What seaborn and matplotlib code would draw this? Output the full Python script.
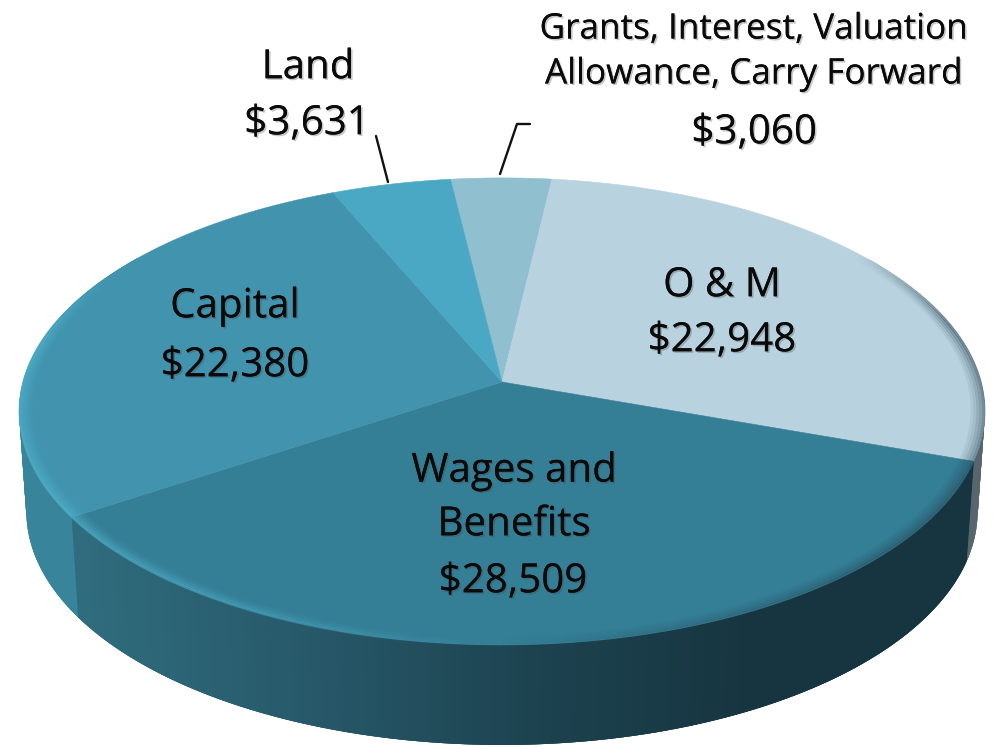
import numpy as np
import matplotlib
matplotlib.use('Agg')
import matplotlib.pyplot as plt
import matplotlib.patheffects as pe
from matplotlib.collections import LineCollection
from matplotlib.transforms import Affine2D
import seaborn as sns

# 数据
names = ['Grants, Interest, Valuation\nAllowance, Carry Forward', 'O & M', 'Wages and\nBenefits', 'Capital', 'Land']
values = [3060, 22948, 28509, 22380, 3631]
colors = ['#90bfd0', '#b8d3df', '#347e96', '#4193ae', '#4aa8c4']

sns.set_theme(style='white')
plt.rcParams['font.family'] = ['Open Sans', 'DejaVu Sans']

# 透视参数 (像素坐标)
cx, cy = 502, 382
a, b, k = 479, 229.8, 0.126
depth = 100
shrink = 0.985
start = 96.95


def project(x, y):
    w = 1 + k * y
    return cx + a * x / w, cy - b * y / w


def rim(theta):
    # theta: 从顶部顺时针的角度
    t = np.radians(theta)
    return project(np.sin(t), np.cos(t))


fig = plt.figure(figsize=(9.94, 7.47), dpi=100)
ax = fig.add_axes([0, 0, 1, 1])

# 先用 pie 算出扇形, 再投影到透视平面
wedges, _ = ax.pie(values, startangle=start, counterclock=False, radius=1)
paths = [w.get_path().to_polygons(Affine2D().scale(2000), closed_only=False)[0] / 2000 for w in wedges]
for w in wedges:
    w.remove()
ax.set_aspect('auto')
ax.set_xlim(0, 994)
ax.set_ylim(747, 0)
ax.axis('off')

total = sum(values)
edges = (90 - start) + np.cumsum([0] + values) / total * 360

# 侧面, 小块互相重叠避免接缝
wall_cols = sns.blend_palette(['#2f6c7d', '#27596a', '#1d4350', '#163540'], 200)
thetas = np.arange(55, 305, 0.25)
for th in thetas:
    mid = th + 0.125
    x1, y1 = rim(np.array([th, th + 0.75]))
    x2 = cx + (x1 - cx) * shrink
    y2 = y1 + depth
    if mid < edges[2]:
        c = '#56666c'
    elif mid < edges[3]:
        xm = x1.mean()
        c = wall_cols[int(np.clip((xm - 78) / (750 - 78), 0, 1) * 199)]
    else:
        c = '#38859b'
    ax.fill([x1[0], x1[1], x2[1], x2[0]], [y1[0], y1[1], y2[1], y2[0]], color=c, lw=0, zorder=1)

# 顶面
for verts, col in zip(paths, colors):
    X, Y = project(verts[:, 0], verts[:, 1])
    ax.fill(X, Y, color=col, lw=0.4, zorder=2)

# 边缘高光
for r, al in [(0.998, 0.55), (0.992, 0.4), (0.986, 0.28), (0.98, 0.16), (0.974, 0.08)]:
    th = np.arange(0, 360.5, 0.5)
    t = np.radians(th)
    X, Y = project(r * np.sin(t), r * np.cos(t))
    pts = np.column_stack([X, Y])
    segs = np.stack([pts[:-1], pts[1:]], axis=1)
    rgba = []
    for v in th[:-1]:
        s = np.sin(np.radians(v))
        c = np.cos(np.radians(v))
        if s < 0 and c < 0.5:
            rgba.append((0.33, 0.72, 0.82, al * min(1, -s * 1.2) * min(1, (0.5 - c) * 3)))
        elif s > 0 and c < 0.6:
            rgba.append((0.15, 0.25, 0.3, al * 0.9 * s * min(1, (0.6 - c) * 3)))
        else:
            rgba.append((0, 0, 0, 0))
    ax.add_collection(LineCollection(segs, colors=rgba, linewidths=2.2, zorder=3, capstyle='butt'))

# 引导线
ax.plot([376, 388], [136, 182], color='#111111', lw=1.7, zorder=4)
ax.plot([500, 517, 530], [174, 124, 124], color='#111111', lw=1.7, zorder=4)

# 文字
shadow = [pe.withSimplePatchShadow(offset=(1.2, -1.2), shadow_rgbFace='#444444', alpha=0.3), pe.Normal()]


def label(x, y, s, size=29, spacing=1.43):
    ax.text(x, y, s, ha='center', va='center', fontsize=size, color='#0a0a0a', zorder=5,
            linespacing=spacing, path_effects=shadow)


def money(v):
    return '$' + format(v, ',')


label(754, 52, names[0], 25.3, 1.42)
label(754, 133, money(values[0]))
label(722, 286, names[1])
label(722, 341, money(values[1]))
label(514, 498, names[2])
label(513, 582, money(values[2]))
label(235, 307, names[3])
label(235, 366, money(values[3]))
label(308, 68, names[4])
label(307, 124, money(values[4]))

fig.savefig('out.png', dpi=100)
